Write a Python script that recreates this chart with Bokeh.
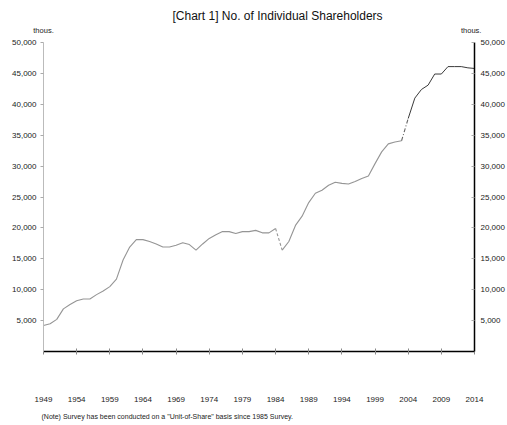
from bokeh.plotting import figure
from bokeh.models import Range1d, LinearAxis, FixedTicker, NumeralTickFormatter, Title
from bokeh.embed import file_html
from bokeh.resources import INLINE

# ---- data (thousands of individual shareholders) ----
years = list(range(1949, 2015))
shareholders = [
    4200, 4500, 5200, 6900, 7600, 8200, 8500, 8500, 9200, 9800,   # 1949-1958
    10500, 11700, 14800, 16900, 18100, 18100, 17800, 17400, 16900, 16900,  # 1959-1968
    17200, 17600, 17300, 16400, 17400, 18300, 18900, 19400, 19400, 19100,  # 1969-1978
    19400, 19400, 19600, 19200, 19200, 19900, 16400, 17800, 20400, 21900,  # 1979-1988
    24100, 25600, 26100, 26900, 27400, 27200, 27100, 27500, 28000, 28400,  # 1989-1998
    30400, 32300, 33600, 33900, 34100, 37700, 41000, 42400, 43100, 44900,  # 1999-2008
    44900, 46100, 46100, 46100, 45900, 45800,                              # 2009-2014
]
y_ticks = [5000, 10000, 15000, 20000, 25000, 30000, 35000, 40000, 45000, 50000]
x_ticks = [1949, 1954, 1959, 1964, 1969, 1974, 1979, 1984, 1989, 1994, 1999, 2004, 2009, 2014]
title_text = "[Chart  1] No. of Individual Shareholders"
unit_text = "thous."
unit_positions = [1949, 2013.5]
note_text = '(Note)  Survey  has  been  conducted  on  a  "Unit-of-Share"  basis  since  1985  Survey.'
break1 = (1984, 1985)   # unit-of-share change
break2 = (2003, 2004)

FONT = "Liberation Sans"

p = figure(width=507, height=425, output_backend="svg", toolbar_location=None,
           x_range=Range1d(1949, 2014), y_range=Range1d(0, 50000),
           min_border_left=43, min_border_top=42, min_border_bottom=73, min_border_right=0)
p.outline_line_color = None
p.xgrid.visible = False
p.ygrid.visible = False

xa = p.below[0]
ya = p.left[0]

# main title
p.title.text = title_text
p.title.align = "left"
p.title.offset = 129
p.title.standoff = 0
p.title.text_font = FONT
p.title.text_font_style = "normal"
p.title.text_font_size = "12px"
p.title.text_color = "#111111"

# x axis
xa.ticker = FixedTicker(ticks=x_ticks)
xa.axis_line_color = "black"
xa.axis_line_width = 1.5
xa.major_tick_line_color = "#888888"
xa.major_tick_in = 3
xa.major_tick_out = 3
xa.minor_tick_line_color = None
xa.major_label_standoff = 42
xa.major_label_text_font = FONT
xa.major_label_text_font_size = "8px"
xa.major_label_text_color = "#222222"

# left y axis
ya.ticker = FixedTicker(ticks=y_ticks)
ya.formatter = NumeralTickFormatter(format="0,0")
ya.axis_line_color = "#bbbbbb"
ya.major_tick_line_color = "#aaaaaa"
ya.major_tick_in = 0
ya.major_tick_out = 3
ya.minor_tick_line_color = None
ya.major_label_standoff = 4
ya.major_label_text_font = FONT
ya.major_label_text_font_size = "8px"
ya.major_label_text_color = "#222222"

# unit labels ("thous.") drawn as an axis above the frame
ua = LinearAxis(ticker=FixedTicker(ticks=unit_positions),
                major_label_overrides={t: unit_text for t in unit_positions})
ua.axis_line_color = None
ua.major_tick_line_color = None
ua.minor_tick_line_color = None
ua.major_tick_in = 0
ua.major_tick_out = 0
ua.major_label_standoff = 8
ua.major_label_text_font = FONT
ua.major_label_text_font_size = "7.5px"
ua.major_label_text_color = "#222222"
p.add_layout(ua, "above")

# right y axis
ra = LinearAxis(ticker=FixedTicker(ticks=y_ticks), formatter=NumeralTickFormatter(format="0,0"))
ra.axis_line_color = "black"
ra.axis_line_width = 1.5
ra.major_tick_line_color = "#aaaaaa"
ra.major_tick_in = 3
ra.major_tick_out = 0
ra.minor_tick_line_color = None
ra.major_label_standoff = 6
ra.major_label_text_font = FONT
ra.major_label_text_font_size = "8px"
ra.major_label_text_color = "#222222"
p.add_layout(ra, "right")

# note below the chart
note = Title(text=note_text, align="left", offset=-2, standoff=12,
             text_font=FONT, text_font_style="normal", text_font_size="7px",
             text_color="#222222")
p.add_layout(note, "below")

# line segments
def seg(y0, y1):
    i0, i1 = years.index(y0), years.index(y1)
    return years[i0:i1 + 1], shareholders[i0:i1 + 1]

GRAY = "#959595"
DARK = "#3a3a3a"
xs, ys = seg(1949, break1[0]); p.line(xs, ys, line_color=GRAY, line_width=1.1)
xs, ys = seg(*break1); p.line(xs, ys, line_color=GRAY, line_width=1.1, line_dash="3 2")
xs, ys = seg(break1[1], break2[0]); p.line(xs, ys, line_color=GRAY, line_width=1.1)
xs, ys = seg(*break2); p.line(xs, ys, line_color="#666666", line_width=1.1, line_dash="4 2 1 2")
xs, ys = seg(break2[1], 2014); p.line(xs, ys, line_color=DARK, line_width=1.0)

open("out.html", "w").write(file_html(p, INLINE))
